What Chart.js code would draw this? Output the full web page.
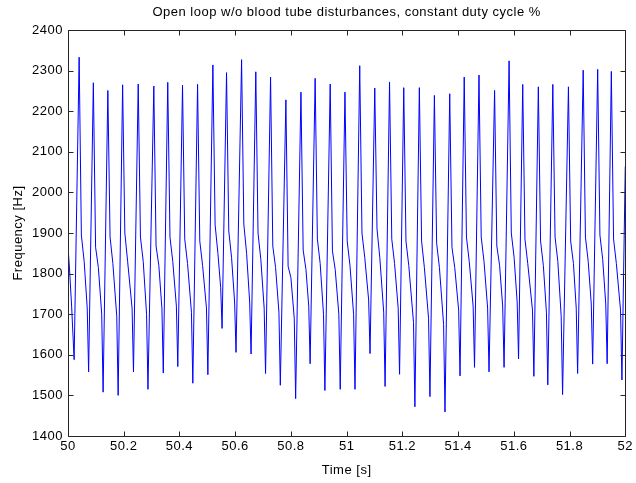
<!DOCTYPE html>
<html>
<head>
<meta charset="utf-8">
<script src="https://cdn.jsdelivr.net/npm/chart.js@4.4.1/dist/chart.umd.min.js"></script>
<style>
  html, body { margin: 0; padding: 0; background: #ffffff; }
  #c { display: block; }
</style>
</head>
<body>
<canvas id="c" width="636" height="483"></canvas>
<script>
// ---- text ----
const chartTitle = 'Open loop w/o blood tube disturbances, constant duty cycle %';
const xAxisTitle = 'Time [s]';
const yAxisTitle = 'Frequency [Hz]';

// ---- tick labels ----
const xTicks = [50, 50.2, 50.4, 50.6, 50.8, 51, 51.2, 51.4, 51.6, 51.8, 52];
const yTicks = [1400, 1500, 1600, 1700, 1800, 1900, 2000, 2100, 2200, 2300, 2400];

// ---- signal start / end ----
const startT = [50.000, 50.005, 50.013];
const startF = [1866, 1816, 1720];
const endT = [52.000];
const endF = [2064];

// ---- troughs (38) ----
const troughT = [50.022, 50.074, 50.126, 50.180, 50.235, 50.287, 50.342, 50.394, 50.448, 50.502,
                 50.553, 50.603, 50.657, 50.709, 50.762, 50.817, 50.869, 50.922, 50.977, 51.030,
                 51.084, 51.138, 51.190, 51.245, 51.299, 51.353, 51.407, 51.459, 51.511, 51.565,
                 51.617, 51.672, 51.722, 51.775, 51.829, 51.883, 51.935, 51.988];
const troughF = [1588, 1558, 1508, 1500, 1558, 1515, 1555, 1571, 1530, 1551,
                 1665, 1606, 1602, 1554, 1525, 1492, 1578, 1512, 1515, 1515,
                 1603, 1522, 1552, 1472, 1497, 1459, 1548, 1569, 1558, 1569,
                 1590, 1547, 1526, 1502, 1554, 1577, 1578, 1538];

// ---- peaks (37) ----
const peakT = [50.040, 50.091, 50.143, 50.196, 50.252, 50.308, 50.358, 50.411, 50.465, 50.520,
               50.569, 50.623, 50.674, 50.727, 50.782, 50.836, 50.887, 50.941, 50.994, 51.047,
               51.101, 51.154, 51.205, 51.261, 51.315, 51.370, 51.422, 51.475, 51.531, 51.583,
               51.632, 51.688, 51.740, 51.796, 51.849, 51.901, 51.950];
const peakF = [2333, 2270, 2251, 2265, 2267, 2262, 2271, 2264, 2266, 2314,
               2295, 2327, 2297, 2284, 2228, 2247, 2281, 2267, 2247, 2312,
               2257, 2272, 2258, 2258, 2239, 2243, 2284, 2289, 2251, 2324,
               2266, 2260, 2266, 2260, 2301, 2303, 2298];

// ---- knee on the falling edge (37) ----
const kneeT = [50.048, 50.099, 50.151, 50.204, 50.260, 50.316, 50.366, 50.419, 50.473, 50.528,
               50.577, 50.631, 50.682, 50.735, 50.790, 50.844, 50.895, 50.949, 51.002, 51.055,
               51.109, 51.162, 51.213, 51.269, 51.323, 51.378, 51.430, 51.483, 51.539, 51.591,
               51.640, 51.696, 51.748, 51.804, 51.857, 51.909, 51.958];
const kneeF = [1895, 1865, 1890, 1900, 1890, 1868, 1890, 1885, 1880, 1920,
               1905, 1922, 1900, 1868, 1818, 1858, 1885, 1856, 1880, 1900,
               1910, 1885, 1880, 1880, 1875, 1865, 1890, 1890, 1868, 1900,
               1885, 1880, 1890, 1880, 1890, 1895, 1885];

// ---- middle of the slow fall (37) ----
const midT = [50.058, 50.109, 50.161, 50.214, 50.270, 50.326, 50.376, 50.429, 50.483, 50.538,
              50.587, 50.641, 50.692, 50.745, 50.800, 50.854, 50.905, 50.959, 51.012, 51.065,
              51.119, 51.172, 51.223, 51.279, 51.333, 51.388, 51.440, 51.493, 51.549, 51.601,
              51.650, 51.706, 51.758, 51.814, 51.867, 51.919, 51.968];
const midF = [1830, 1815, 1825, 1830, 1830, 1820, 1830, 1825, 1820, 1850,
              1840, 1850, 1835, 1815, 1790, 1810, 1825, 1810, 1820, 1840,
              1840, 1825, 1820, 1815, 1815, 1815, 1830, 1830, 1820, 1840,
              1825, 1820, 1830, 1825, 1830, 1835, 1825];

// ---- low point before the final drop (37) ----
const lowT = [50.069, 50.121, 50.175, 50.230, 50.282, 50.337, 50.389, 50.443, 50.497, 50.548,
              50.598, 50.652, 50.704, 50.757, 50.812, 50.864, 50.917, 50.972, 51.025, 51.079,
              51.133, 51.185, 51.240, 51.294, 51.348, 51.402, 51.454, 51.506, 51.560, 51.612,
              51.667, 51.717, 51.770, 51.824, 51.878, 51.930, 51.983];
const lowF = [1715, 1700, 1695, 1715, 1700, 1715, 1720, 1705, 1715, 1765,
              1730, 1730, 1715, 1705, 1690, 1720, 1700, 1700, 1700, 1735,
              1705, 1715, 1680, 1690, 1675, 1710, 1720, 1715, 1720, 1730,
              1710, 1705, 1695, 1715, 1725, 1725, 1710];

// ---- assemble the polyline from the read values ----
const pts = [];
for (let i = 0; i < startT.length; i++) pts.push({ x: startT[i], y: startF[i] });
for (let i = 0; i < peakT.length; i++) {
  pts.push({ x: troughT[i], y: troughF[i] });
  pts.push({ x: peakT[i], y: peakF[i] });
  pts.push({ x: kneeT[i], y: kneeF[i] });
  pts.push({ x: midT[i], y: midF[i] });
  pts.push({ x: lowT[i], y: lowF[i] });
}
pts.push({ x: troughT[troughT.length - 1], y: troughF[troughF.length - 1] });
for (let i = 0; i < endT.length; i++) pts.push({ x: endT[i], y: endF[i] });

const FONT = "'Liberation Sans', Arial, Helvetica, sans-serif";
const SPACING = '0.5px';

const framePlugin = {
  id: 'matlabFrame',
  beforeUpdate(chart) { chart.ctx.letterSpacing = SPACING; },
  beforeDraw(chart) {
    const ctx = chart.ctx;
    ctx.letterSpacing = SPACING;
    ctx.save();
    ctx.fillStyle = '#ffffff';
    ctx.fillRect(0, 0, chart.width, chart.height);
    ctx.restore();
  },
  afterDraw(chart) {
    const ctx = chart.ctx;
    const a = chart.chartArea;
    const sx = chart.scales.x, sy = chart.scales.y;
    const L = Math.round(a.left) + 0.5, R = Math.round(a.right) + 0.5;
    const T = Math.round(a.top) + 0.5, B = Math.round(a.bottom) + 0.5;
    const tl = 5;
    ctx.save();
    ctx.strokeStyle = '#262626';
    ctx.lineWidth = 1;
    ctx.beginPath();
    ctx.rect(L, T, R - L, B - T);
    xTicks.forEach(v => {
      const p = Math.round(sx.getPixelForValue(v)) + 0.5;
      ctx.moveTo(p, B); ctx.lineTo(p, B - tl);
      ctx.moveTo(p, T); ctx.lineTo(p, T + tl);
    });
    yTicks.forEach(v => {
      const p = Math.round(sy.getPixelForValue(v)) + 0.5;
      ctx.moveTo(L, p); ctx.lineTo(L + tl, p);
      ctx.moveTo(R, p); ctx.lineTo(R - tl, p);
    });
    ctx.stroke();
    ctx.letterSpacing = SPACING;
    ctx.fillStyle = '#000000';
    ctx.font = '13px ' + FONT;
    ctx.textAlign = 'center';
    ctx.textBaseline = 'middle';
    ctx.fillText(chartTitle, (a.left + a.right) / 2, 12);
    ctx.restore();
  }
};

new Chart(document.getElementById('c'), {
  type: 'line',
  data: {
    datasets: [{
      data: pts,
      borderColor: '#0000ff',
      borderWidth: 1,
      pointRadius: 0,
      pointHoverRadius: 0,
      tension: 0,
      fill: false
    }]
  },
  options: {
    responsive: false,
    animation: false,
    devicePixelRatio: 1,
    events: [],
    layout: { padding: { top: 30, right: 6, left: 0, bottom: 0 } },
    plugins: {
      legend: { display: false },
      title: { display: false },
      tooltip: { enabled: false }
    },
    scales: {
      x: {
        type: 'linear',
        min: 50, max: 52,
        grid: { display: false, drawTicks: false },
        border: { display: false },
        afterBuildTicks: s => { s.ticks = xTicks.map(v => ({ value: v })); },
        afterFit: s => { s.height = 47; },
        ticks: {
          autoSkip: false, maxRotation: 0, padding: 3,
          color: '#000000',
          font: { family: FONT, size: 13 },
          callback: v => String(v)
        },
        title: {
          display: true, text: xAxisTitle, color: '#000000',
          font: { family: FONT, size: 13 },
          padding: { top: 0, bottom: 5 }
        }
      },
      y: {
        type: 'linear',
        min: 1400, max: 2400,
        grid: { display: false, drawTicks: false },
        border: { display: false },
        afterBuildTicks: s => { s.ticks = yTicks.map(v => ({ value: v })); },
        afterFit: s => { s.width = 68; },
        ticks: {
          padding: 5,
          color: '#000000',
          font: { family: FONT, size: 13 },
          callback: v => String(v)
        },
        title: {
          display: true, text: yAxisTitle, color: '#000000',
          font: { family: FONT, size: 13 },
          padding: { top: 11, bottom: 0 }
        }
      }
    }
  },
  plugins: [framePlugin]
});
</script>
</body>
</html>
